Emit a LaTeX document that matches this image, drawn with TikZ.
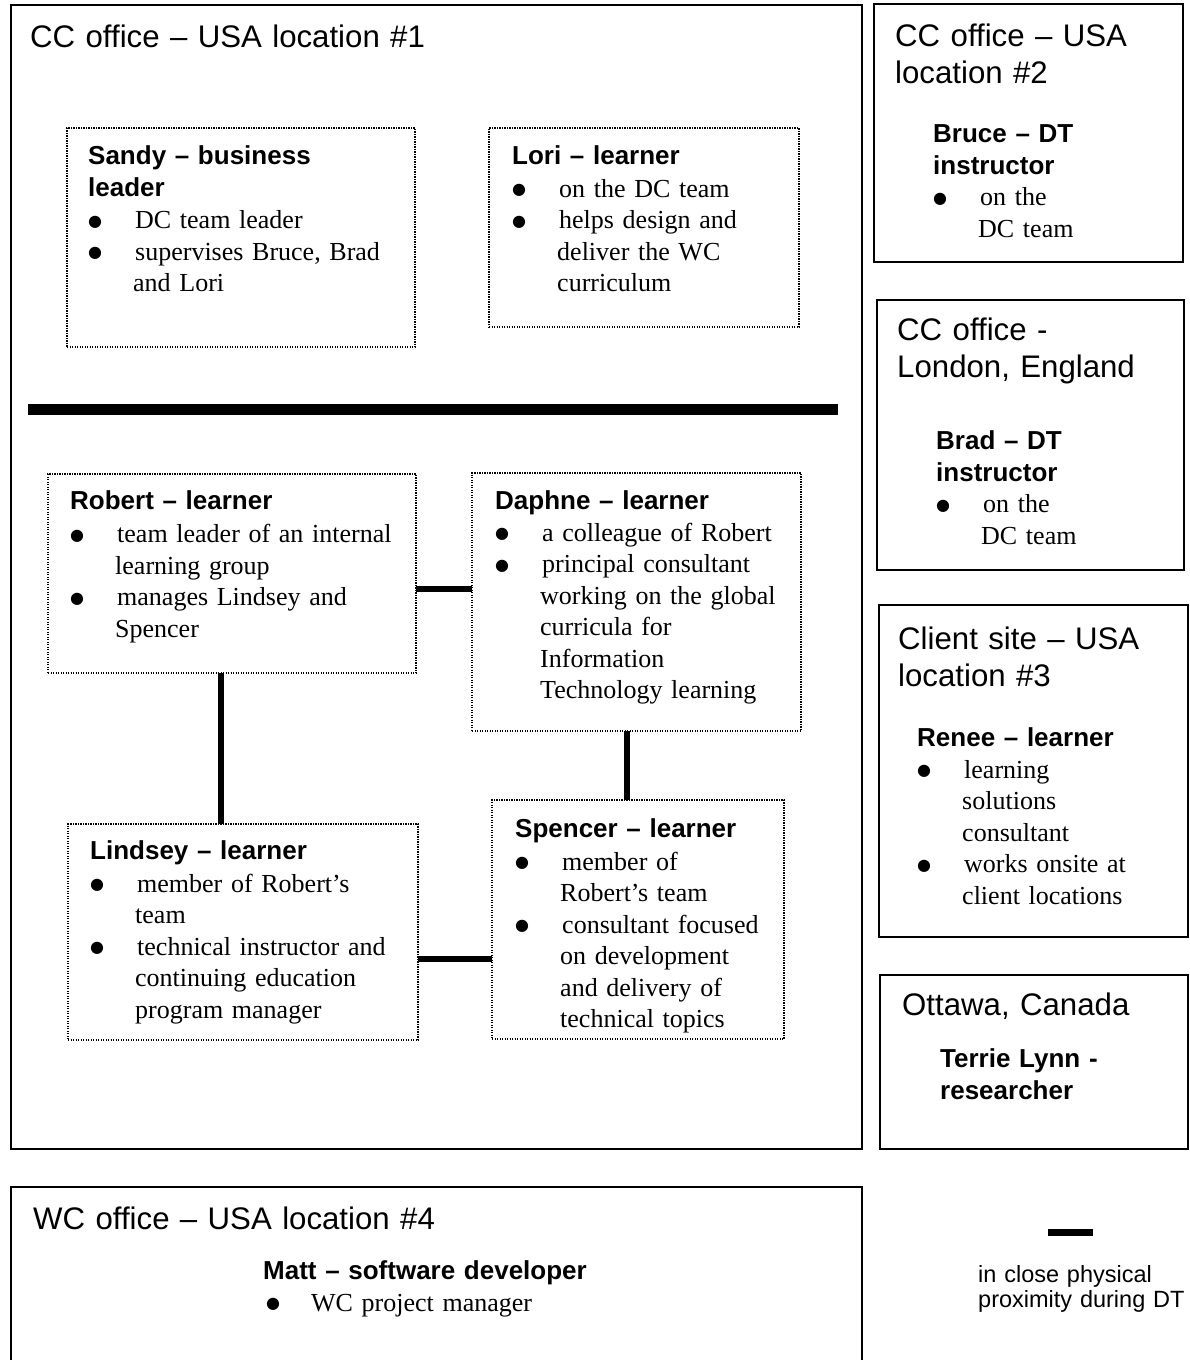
\documentclass[tikz,border=0pt]{standalone}
\usepackage{fontspec}
\setmainfont{Liberation Serif}
\setsansfont{Liberation Sans}
\newfontfamily\dvfont{DejaVu Sans}
\newcommand\hd{\sffamily\bfseries}
\newcommand\bdot{\raisebox{2.5pt}{\dvfont\fontsize{16}{0}\selectfont ●}}
\newcommand\bul{\makebox[47pt][l]{\hspace*{0pt}\bdot}}
\newcommand\ind{\hspace*{45pt}}
\begin{document}
\begin{tikzpicture}[x=1pt,y=-1pt,
  solidbox/.style={draw=black, line width=1.6pt, inner sep=0pt, outer sep=0pt, anchor=north west},
  dotbox/.style={draw=black, line width=1.3pt, dash pattern=on 1.3pt off 1.2pt, inner sep=0pt, outer sep=0pt, anchor=north west},
  conn/.style={line width=6.5pt},
  txt/.style={anchor=base west, inner sep=0pt, align=left, text width=420pt,
     font=\fontsize{26}{31.5}\selectfont},
  ttl/.style={anchor=base west, inner sep=0pt, align=left, text width=420pt,
     font=\fontsize{31.2}{37}\selectfont\sffamily},
  leg/.style={anchor=base west, inner sep=0pt, align=left, text width=300pt,
     font=\fontsize{23.5}{25}\selectfont\sffamily}]
\useasboundingbox[fill=white] (0,0) rectangle (1190,1360);

% location boxes
\node[solidbox, minimum width=851pt, minimum height=1144pt] (cc1) at (11,5) {};
\node[solidbox, minimum width=309pt, minimum height=258pt] (cc2) at (874,4) {};
\node[solidbox, minimum width=307pt, minimum height=270pt] (lon) at (877,300) {};
\node[solidbox, minimum width=309pt, minimum height=332pt] (cli) at (879,605) {};
\node[solidbox, minimum width=308pt, minimum height=174pt] (ott) at (880,975) {};
\coordinate (wcA) at (11,1362);
\coordinate (wcB) at (862,1187);
\coordinate (wcC) at (862,1362);
\draw[line width=1.6pt] (wcA) |- (wcB) -- (wcC);

% titles
\node[ttl] (t1) at (30,47) {CC office – USA location \#1};
\node[ttl] (t2) at (895,46) {CC office – USA\\location \#2};
\node[ttl] (t3) at (897,340.5) {CC office -\\London, England};
\node[ttl] (t4) at (898,649) {Client site – USA\\location \#3};
\node[ttl] (t5) at (902,1015.5) {Ottawa, Canada};
\node[ttl] (t6) at (33,1229.5) {WC office – USA location \#4};

% dotted person boxes
\node[dotbox, minimum width=348pt, minimum height=219pt] (sandy) at (67,128) {};
\node[dotbox, minimum width=310pt, minimum height=199pt] (lori) at (489,128) {};
\node[dotbox, minimum width=368pt, minimum height=199pt] (robert) at (48,474) {};
\node[dotbox, minimum width=329pt, minimum height=258pt] (daphne) at (472,473) {};
\node[dotbox, minimum width=350pt, minimum height=216pt] (lindsey) at (68,824) {};
\node[dotbox, minimum width=292pt, minimum height=239pt] (spencer) at (492,800) {};

% separator
\coordinate (sepA) at (28,409.5);
\coordinate (sepB) at (838,409.5);
\draw[line width=11pt] (sepA) -- (sepB);

% connectors
\draw[conn] ([yshift=-15.5pt]robert.east) -- ([yshift=13pt]daphne.west);
\draw[conn] ([xshift=-11pt]robert.south) -- ([xshift=-22pt]lindsey.north);
\draw[conn] ([xshift=-9.5pt]daphne.south) -- ([xshift=-11pt]spencer.north);
\draw[conn] ([yshift=-27pt]lindsey.east) -- ([yshift=-39.5pt]spencer.west);

% person texts
\node[txt] (sandyT) at (88,164.5) {{\hd Sandy – business}\\{\hd leader}\\[1pt]
  \bul DC team leader\\\bul supervises Bruce, Brad\\\ind and Lori};
\node[txt] (loriT) at (512,164.5) {{\hd Lori – learner}\\[1pt]
  \bul on the DC team\\\bul helps design and\\\ind deliver the WC\\\ind curriculum};
\node[txt] (robertT) at (70,509.5) {{\hd Robert – learner}\\[1.5pt]
  \bul team leader of an internal\\\ind learning group\\\bul manages Lindsey and\\\ind Spencer};
\node[txt] (daphneT) at (495,509.5) {{\hd Daphne – learner}\\
  \bul a colleague of Robert\\\bul principal consultant\\\ind working on the global\\\ind curricula for\\\ind Information\\\ind Technology learning};
\node[txt] (lindseyT) at (90,859.5) {{\hd Lindsey – learner}\\[1pt]
  \bul member of Robert’s\\\ind team\\\bul technical instructor and\\\ind continuing education\\\ind program manager};
\node[txt] (spencerT) at (515,837.5) {{\hd Spencer – learner}\\[1pt]
  \bul member of\\\ind Robert’s team\\\bul consultant focused\\\ind on development\\\ind and delivery of\\\ind technical topics};
\node[txt] (bruceT) at (933,142.5) {{\hd Bruce – DT}\\{\hd instructor}\\
  \bul on the\\\ind DC team};
\node[txt] (bradT) at (936,449.5) {{\hd Brad – DT}\\{\hd instructor}\\
  \bul on the\\\ind DC team};
\node[txt] (reneeT) at (917,746.5) {{\hd Renee – learner}\\
  \bul learning\\\ind solutions\\\ind consultant\\\bul works onsite at\\\ind client locations};
\node[txt] (terrieT) at (940,1067.5) {{\hd Terrie Lynn -}\\{\hd researcher}};
\node[txt] (mattT) at (263,1279.5) {{\hd Matt – software developer}\\
  \makebox[48pt][l]{\hspace*{3pt}\bdot}WC project manager};

% legend
\coordinate (legA) at (1048,1232);
\coordinate (legB) at (1093,1232);
\draw[line width=7pt] (legA) -- (legB);
\node[leg] (legT) at (978,1282) {in close physical\\proximity during DT};
\end{tikzpicture}
\end{document}
